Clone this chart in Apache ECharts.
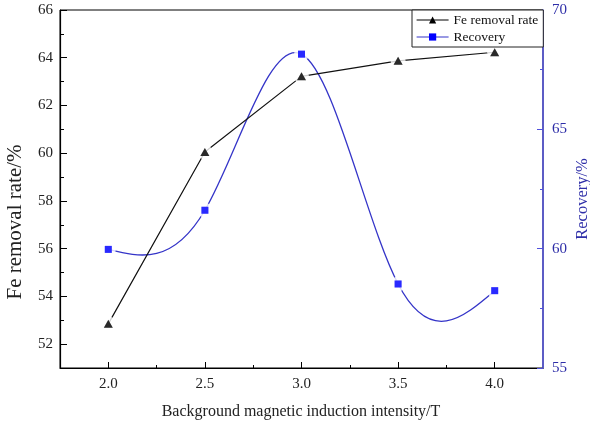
<!DOCTYPE html>
<html>
<head>
<meta charset="utf-8">
<script src="https://cdn.jsdelivr.net/npm/echarts@6/dist/echarts.min.js"></script>
<style>html,body{margin:0;padding:0;background:#fff}#c{width:590px;height:428px}</style>
</head>
<body>
<div id="c"></div>
<script>
// ---- data ----
var fieldT = [2.0, 2.5, 3.0, 3.5, 4.0];
var feRemoval = [52.85, 60.05, 63.22, 63.87, 64.23];
var recovery = [59.97, 61.61, 68.15, 58.52, 58.24];
var xTicks = [2.0, 2.5, 3.0, 3.5, 4.0];
var xMinorTicks = [2.25, 2.75, 3.25, 3.75];
var leftTicks = [52, 54, 56, 58, 60, 62, 64, 66];
var leftMinorTicks = [53, 55, 57, 59, 61, 63, 65];

var FONT = 'Liberation Serif, Times New Roman, serif';
var BLUE_LINE = '#3434c8';
var BLUE_MARK = '#0000ff';
var BLUE_AXIS = '#5050dc';
var BLUE_TEXT = '#2e2ea8';

function pairs(xs, ys) { return xs.map(function (x, i) { return [x, ys[i]]; }); }

// natural cubic spline slopes at knots (rendering of the curve through data)
function splineSlopes(xs, ys) {
  var n = xs.length, h = [], M = new Array(n).fill(0);
  for (var i = 0; i < n - 1; i++) h.push(xs[i + 1] - xs[i]);
  var a = [], b = [], c = [], d = [];
  for (var i = 1; i < n - 1; i++) {
    a.push(h[i - 1]); b.push(2 * (h[i - 1] + h[i])); c.push(h[i]);
    d.push(6 * ((ys[i + 1] - ys[i]) / h[i] - (ys[i] - ys[i - 1]) / h[i - 1]));
  }
  var m = b.length;
  for (var i = 1; i < m; i++) {
    var w = a[i] / b[i - 1];
    b[i] -= w * c[i - 1]; d[i] -= w * d[i - 1];
  }
  var sol = new Array(m);
  for (var i = m - 1; i >= 0; i--) sol[i] = (d[i] - (i < m - 1 ? c[i] * sol[i + 1] : 0)) / b[i];
  for (var i = 0; i < m; i++) M[i + 1] = sol[i];
  var segs = [];
  for (var i = 0; i < n - 1; i++) {
    var s = (ys[i + 1] - ys[i]) / h[i];
    segs.push({
      d0: s - h[i] * (2 * M[i] + M[i + 1]) / 6,
      d1: s + h[i] * (M[i] + 2 * M[i + 1]) / 6,
      h: h[i]
    });
  }
  return segs;
}
var recSegs = splineSlopes(fieldT, recovery);

var chart = echarts.init(document.getElementById('c'), null, { renderer: 'canvas' });

var option = {
  backgroundColor: '#fff',
  animation: false,
  textStyle: { fontFamily: FONT },
  grid: { left: 60, right: 47, top: 10, bottom: 60, show: true, borderColor: '#000', borderWidth: 1, backgroundColor: 'transparent' },
  legend: {
    left: 412, top: 10, orient: 'vertical',
    padding: [3, 5, 3, 4], itemGap: 3,
    itemWidth: 32, itemHeight: 9,
    borderColor: '#222', borderWidth: 1,
    backgroundColor: '#fff',
    textStyle: { fontFamily: FONT, fontSize: 13.5, color: '#111' },
    data: [
      { name: 'Fe removal rate', itemStyle: { color: '#000' }, lineStyle: { color: '#000', width: 1.2, opacity: 1 } },
      { name: 'Recovery', itemStyle: { color: BLUE_MARK }, lineStyle: { color: BLUE_LINE, width: 1.2, opacity: 1 } }
    ]
  },
  xAxis: [
    {
      type: 'value', min: 1.75, max: 4.25, position: 'bottom',
      axisLine: { show: true, lineStyle: { color: '#000', width: 1.2 } },
      axisTick: { show: true, inside: true, length: 6, customValues: xTicks, lineStyle: { color: '#000' } },
      axisLabel: { customValues: xTicks, margin: 9, color: '#222', fontFamily: FONT, fontSize: 15, formatter: function (v) { return v.toFixed(1); } },
      splitLine: { show: false }
    },
    {
      type: 'value', min: 1.75, max: 4.25, position: 'bottom',
      axisLine: { show: false },
      axisTick: { show: true, inside: true, length: 3, customValues: xMinorTicks, lineStyle: { color: '#000' } },
      axisLabel: { show: false },
      splitLine: { show: false }
    }
  ],
  yAxis: [
    {
      type: 'value', min: 51, max: 66, position: 'left',
      axisLine: { show: true, lineStyle: { color: '#000', width: 1.2 } },
      axisTick: { show: true, inside: true, length: 7, customValues: leftTicks, lineStyle: { color: '#000' } },
      axisLabel: { customValues: leftTicks, margin: 7, color: '#222', fontFamily: FONT, fontSize: 15 },
      splitLine: { show: false }
    },
    {
      type: 'value', min: 55, max: 70, interval: 5, position: 'right',
      axisLine: { show: true, lineStyle: { color: BLUE_AXIS, width: 1.5 } },
      axisTick: { show: true, inside: true, length: 6, lineStyle: { color: BLUE_AXIS } },
      minorTick: { show: true, splitNumber: 2, length: 3, lineStyle: { color: BLUE_AXIS } },
      axisLabel: { margin: 9, color: BLUE_TEXT, fontFamily: FONT, fontSize: 15 },
      splitLine: { show: false }
    },
    {
      type: 'value', min: 51, max: 66, position: 'left',
      axisLine: { show: false },
      axisTick: { show: true, inside: true, length: 4, customValues: leftMinorTicks, lineStyle: { color: '#000' } },
      axisLabel: { show: false },
      splitLine: { show: false }
    }
  ],
  graphic: [
    { type: 'text', x: 301, y: 412, style: { text: 'Background magnetic induction intensity/T', font: '16px ' + FONT, fill: '#222', align: 'center', verticalAlign: 'middle' } },
    { type: 'text', x: 15, y: 222, rotation: Math.PI / 2, style: { text: 'Fe removal rate/%', font: '21px ' + FONT, fill: '#222', align: 'center', verticalAlign: 'middle' } },
    { type: 'text', x: 583, y: 199, rotation: Math.PI / 2, style: { text: 'Recovery/%', font: '16.5px ' + FONT, fill: BLUE_TEXT, align: 'center', verticalAlign: 'middle' } }
  ],
  series: [
    {
      name: 'Fe removal rate', type: 'line', xAxisIndex: 0, yAxisIndex: 0, z: 2,
      data: pairs(fieldT, feRemoval),
      symbol: 'triangle', symbolSize: [9, 8],
      itemStyle: { color: '#000' },
      lineStyle: { color: '#111', width: 1.2 }
    },
    {
      name: 'Recovery', type: 'line', xAxisIndex: 0, yAxisIndex: 1, z: 2,
      data: pairs(fieldT, recovery),
      symbol: 'rect', symbolSize: 7,
      itemStyle: { color: BLUE_MARK },
      lineStyle: { color: BLUE_LINE, width: 1.2, opacity: 0 }
    },
    {
      name: '_recoveryCurve', type: 'custom', xAxisIndex: 0, yAxisIndex: 1, z: 2,
      data: pairs(fieldT, recovery),
      encode: { x: 0, y: 1 },
      silent: true,
      renderItem: function (params, api) {
        var i = params.dataIndex;
        if (i >= fieldT.length - 1) return null;
        var s = recSegs[i], h3 = s.h / 3;
        var p0 = api.coord([fieldT[i], recovery[i]]);
        var p1 = api.coord([fieldT[i] + h3, recovery[i] + h3 * s.d0]);
        var p2 = api.coord([fieldT[i + 1] - h3, recovery[i + 1] - h3 * s.d1]);
        var p3 = api.coord([fieldT[i + 1], recovery[i + 1]]);
        return {
          type: 'bezierCurve',
          shape: { x1: p0[0], y1: p0[1], cpx1: p1[0], cpy1: p1[1], cpx2: p2[0], cpy2: p2[1], x2: p3[0], y2: p3[1] },
          style: { stroke: BLUE_LINE, fill: null, lineWidth: 1.3 }
        };
      }
    },
    {
      name: '_gapFe', type: 'scatter', xAxisIndex: 0, yAxisIndex: 0, z: 3, silent: true,
      data: pairs(fieldT, feRemoval), symbol: 'circle', symbolSize: 15, itemStyle: { color: '#fff' }
    },
    {
      name: '_gapRec', type: 'scatter', xAxisIndex: 0, yAxisIndex: 1, z: 3, silent: true,
      data: pairs(fieldT, recovery), symbol: 'circle', symbolSize: 15, itemStyle: { color: '#fff' }
    },
    {
      name: '_markFe', type: 'scatter', xAxisIndex: 0, yAxisIndex: 0, z: 4, silent: true,
      data: pairs(fieldT, feRemoval), symbol: 'triangle', symbolSize: [9, 8], itemStyle: { color: '#000' }
    },
    {
      name: '_markRec', type: 'scatter', xAxisIndex: 0, yAxisIndex: 1, z: 4, silent: true,
      data: pairs(fieldT, recovery), symbol: 'rect', symbolSize: 7, itemStyle: { color: BLUE_MARK }
    }
  ]
};
chart.setOption(option);
</script>
</body>
</html>
